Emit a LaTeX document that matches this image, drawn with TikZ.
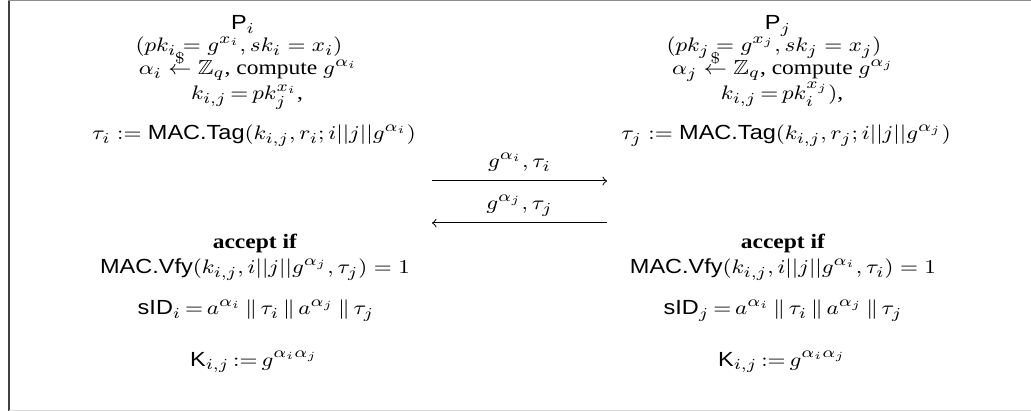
\documentclass[tikz,border=0pt]{standalone}
\usepackage{amsmath,amssymb,graphicx}
\usepackage[no-math]{fontspec}
\setmainfont{Liberation Serif}
\setsansfont{Liberation Sans}
\newcommand{\sfx}[1]{\text{\sffamily #1}}
\newcommand{\sq}[1]{\scalebox{1}[0.87]{#1}}
\begin{document}
\begin{tikzpicture}[x=0.4pt,y=-0.4pt,
  txt/.style={anchor=base,inner sep=0pt,font=\fontsize{9.4}{11}\selectfont},
  lbl/.style={midway,anchor=base,inner sep=0pt,yshift=5.2pt,font=\fontsize{9.4}{11}\selectfont},
  msg/.style={->,line width=0.4pt}]
\useasboundingbox (0,0) rectangle (1031,411);
\draw[line width=0.8pt,black!75] (8.7,0) -- (8.7,411);
\draw[line width=0.5pt,black!45] (8,0.6) -- (1031,0.6);
\draw[line width=0.5pt,black!15] (9,410.4) -- (1031,410.4);
% top left
\node[txt] (pi) at (243,30) {\sq{\sfx{P}$_i$}};
\node[txt] (pki) at (239,52) {\sq{$(pk_i = g^{x_i}, sk_i = x_i)$}};
\node[txt] (ai) at (248,75) {\sq{$\alpha_i \stackrel{\$}{\leftarrow} \mathbb{Z}_q$, compute $g^{\alpha_i}$}};
\node[txt] (ki) at (247,100) {\sq{$k_{i,j} \,{=}\, pk_j^{x_i}$,}};
\node[txt] (ti) at (254,140) {\sq{$\tau_i := \sfx{MAC.Tag}(k_{i,j}, r_i; i||j||g^{\alpha_i})$}};
% top right
\node[txt] (pj) at (778,30) {\sq{\sfx{P}$_j$}};
\node[txt] (pkj) at (774,52) {\sq{$(pk_j = g^{x_j}, sk_j = x_j)$}};
\node[txt] (aj) at (783,75) {\sq{$\alpha_j \stackrel{\$}{\leftarrow} \mathbb{Z}_q$, compute $g^{\alpha_j}$}};
\node[txt] (kj) at (782,100) {\sq{$k_{i,j} \,{=}\, pk_i^{x_j})$,}};
\node[txt] (tj) at (786,140) {\sq{$\tau_j := \sfx{MAC.Tag}(k_{i,j}, r_j; i||j||g^{\alpha_j})$}};
% messages
\coordinate (m1s) at (432,181);
\coordinate (m1e) at (607,181);
\coordinate (m2s) at (607,223);
\coordinate (m2e) at (432,223);
\draw[msg] (m1s) -- node[lbl] (l1) {\sq{$g^{\alpha_i}, \tau_i$}} (m1e);
\draw[msg] (m2s) -- node[lbl] (l2) {\sq{$g^{\alpha_j}, \tau_j$}} (m2e);
% bottom left
\node[txt] (acci) at (255,249) {\sq{\textbf{accept if}}};
\node[txt] (vfi) at (255,274) {\sq{$\sfx{MAC.Vfy}(k_{i,j}, i||j||g^{\alpha_j}, \tau_j) = 1$}};
\node[txt] (sidi) at (256,315) {\sq{$\sfx{sID}_i \,{=}\, a^{\alpha_i} \,\|\, \tau_i \,\|\, a^{\alpha_j} \,\|\, \tau_j$}};
\node[txt] (kki) at (254,366) {\sq{$\sfx{K}_{i,j} \,{:}{=}\, g^{\alpha_i\alpha_j}$}};
% bottom right
\node[txt] (accj) at (783,249) {\sq{\textbf{accept if}}};
\node[txt] (vfj) at (783,274) {\sq{$\sfx{MAC.Vfy}(k_{i,j}, i||j||g^{\alpha_i}, \tau_i) = 1$}};
\node[txt] (sidj) at (783,315) {\sq{$\sfx{sID}_j \,{=}\, a^{\alpha_i} \,\|\, \tau_i \,\|\, a^{\alpha_j} \,\|\, \tau_j$}};
\node[txt] (kkj) at (782,366) {\sq{$\sfx{K}_{i,j} \,{:}{=}\, g^{\alpha_i\alpha_j}$}};
\end{tikzpicture}
\end{document}
